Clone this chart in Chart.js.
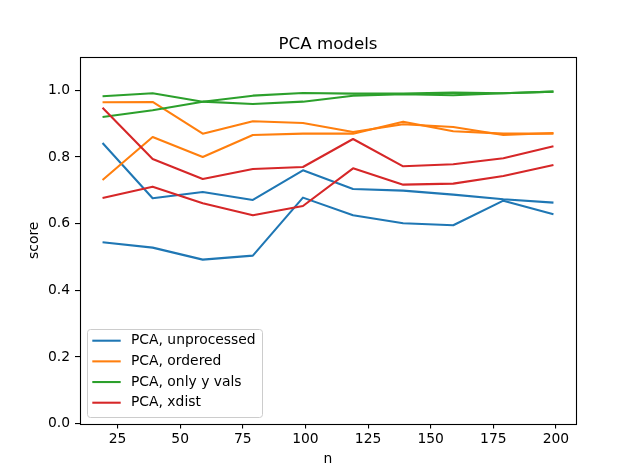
<!DOCTYPE html>
<html><head><meta charset="utf-8">
<script src="https://cdn.jsdelivr.net/npm/chart.js@4/dist/chart.umd.min.js"></script>
<style>html,body{margin:0;padding:0;background:#fff}canvas{display:block}</style>
</head><body>
<canvas id="c" width="640" height="476"></canvas>
<script>
const nValues = [19, 39, 59, 79, 99, 119, 139, 159, 179, 199];
const unprocessedA = [0.842, 0.676, 0.695, 0.671, 0.760, 0.704, 0.699, 0.687, 0.673, 0.663];
const unprocessedB = [0.544, 0.528, 0.492, 0.504, 0.678, 0.625, 0.601, 0.595, 0.669, 0.628];
const orderedA = [0.964, 0.965, 0.870, 0.907, 0.902, 0.875, 0.898, 0.890, 0.866, 0.872];
const orderedB = [0.731, 0.860, 0.800, 0.866, 0.870, 0.870, 0.906, 0.877, 0.870, 0.870];
const onlyYA = [0.982, 0.991, 0.966, 0.959, 0.966, 0.984, 0.988, 0.985, 0.991, 0.996];
const onlyYB = [0.920, 0.940, 0.966, 0.984, 0.992, 0.990, 0.990, 0.993, 0.991, 0.996];
const xdistA = [0.948, 0.794, 0.734, 0.764, 0.770, 0.854, 0.772, 0.778, 0.796, 0.832];
const xdistB = [0.677, 0.711, 0.661, 0.625, 0.653, 0.766, 0.717, 0.720, 0.743, 0.776];
const seriesLabels = ['PCA, unprocessed', 'PCA, ordered', 'PCA, only y vals', 'PCA, xdist'];
const xTicks = [25, 50, 75, 100, 125, 150, 175, 200];
const yTicks = [0.0, 0.2, 0.4, 0.6, 0.8, 1.0];
const titleText = 'PCA models';
const xTitle = 'n';
const yTitle = 'score';

const colors = ['#1f77b4', '#ff7f0e', '#2ca02c', '#d62728'];
const FONT = "'DejaVu Sans', sans-serif";
const pairs = [[unprocessedA, unprocessedB], [orderedA, orderedB], [onlyYA, onlyYB], [xdistA, xdistB]];

const datasets = [];
pairs.forEach((p, si) => {
  p.forEach((vals, k) => {
    datasets.push({
      label: k === 0 ? seriesLabels[si] : '_nolegend_',
      data: nValues.map((n, i) => ({x: n, y: vals[i]})),
      borderColor: colors[si],
      backgroundColor: colors[si],
      borderWidth: 2.08,
      borderCapStyle: 'butt',
      borderJoinStyle: 'round',
      pointRadius: 0,
      tension: 0,
      fill: false
    });
  });
});
datasets.forEach((d, i) => { d.order = -i; });

const decor = {
  id: 'decor',
  afterDatasetsDraw(chart) {
    const {ctx, chartArea: a} = chart;
    ctx.save();
    ctx.strokeStyle = '#000';
    ctx.lineWidth = 1.1;
    ctx.strokeRect(Math.round(a.left) + 0.5, Math.round(a.top) + 0.5,
                   Math.round(a.right) - Math.round(a.left), Math.round(a.bottom) - Math.round(a.top));
    ctx.restore();
  },
  afterDraw(chart) {
    const {ctx, chartArea: a} = chart;
    ctx.save();
    // title
    ctx.fillStyle = '#000';
    ctx.font = '16.67px ' + FONT;
    ctx.textAlign = 'center';
    ctx.textBaseline = 'alphabetic';
    ctx.fillText(titleText, (a.left + a.right) / 2, a.top - 8.3);
    // legend
    const items = chart.data.datasets.filter(d => !d.label.startsWith('_'));
    const bx = 87.5, by = 329.5, bw = 175, bh = 88;
    ctx.beginPath();
    if (ctx.roundRect) ctx.roundRect(bx, by, bw, bh, 3); else ctx.rect(bx, by, bw, bh);
    ctx.fillStyle = 'rgba(255,255,255,0.8)';
    ctx.fill();
    ctx.strokeStyle = '#cccccc';
    ctx.lineWidth = 1;
    ctx.stroke();
    ctx.font = '13.89px ' + FONT;
    ctx.textAlign = 'left';
    ctx.textBaseline = 'middle';
    items.forEach((d, i) => {
      const y = 340.7 + i * 20.67;
      ctx.strokeStyle = d.borderColor;
      ctx.lineWidth = 2.08;
      ctx.beginPath();
      ctx.moveTo(92.3, y);
      ctx.lineTo(120.7, y);
      ctx.stroke();
      ctx.fillStyle = '#000';
      ctx.fillText(d.label, 131, y);
    });
    ctx.restore();
  }
};

new Chart(document.getElementById('c'), {
  type: 'line',
  data: { datasets },
  plugins: [decor],
  options: {
    responsive: false,
    animation: false,
    devicePixelRatio: 1,
    layout: { padding: { top: 57, right: 64, left: 0, bottom: 0 } },
    plugins: { legend: { display: false }, title: { display: false }, tooltip: { enabled: false } },
    scales: {
      x: {
        type: 'linear',
        min: 10,
        max: 208,
        afterFit(s) { s.height = 52.4; },
        afterBuildTicks(s) { s.ticks = xTicks.map(v => ({value: v})); },
        grid: { display: true, drawOnChartArea: false, drawTicks: true, tickLength: 5, color: '#000', lineWidth: 1.1 },
        border: { display: false },
        ticks: { color: '#000', font: { family: FONT, size: 13.89 }, padding: 2, maxRotation: 0, autoSkip: false,
                 callback: v => String(v) },
        title: { display: true, text: xTitle, color: '#000', font: { family: FONT, size: 13.89 }, padding: { top: 0, bottom: 8.5 } }
      },
      y: {
        type: 'linear',
        min: 0,
        max: 1.1,
        afterFit(s) { s.width = 80; },
        afterBuildTicks(s) { s.ticks = yTicks.map(v => ({value: v})); },
        grid: { display: true, drawOnChartArea: false, drawTicks: true, tickLength: 5, color: '#000', lineWidth: 1.1 },
        border: { display: false },
        ticks: { color: '#000', font: { family: FONT, size: 13.89 }, padding: 5, autoSkip: false,
                 callback: v => Number(v).toFixed(1) },
        title: { display: true, text: yTitle, color: '#000', font: { family: FONT, size: 13.89 }, padding: { top: 26.5, bottom: 0 } }
      }
    }
  }
});
</script>
</body></html>
